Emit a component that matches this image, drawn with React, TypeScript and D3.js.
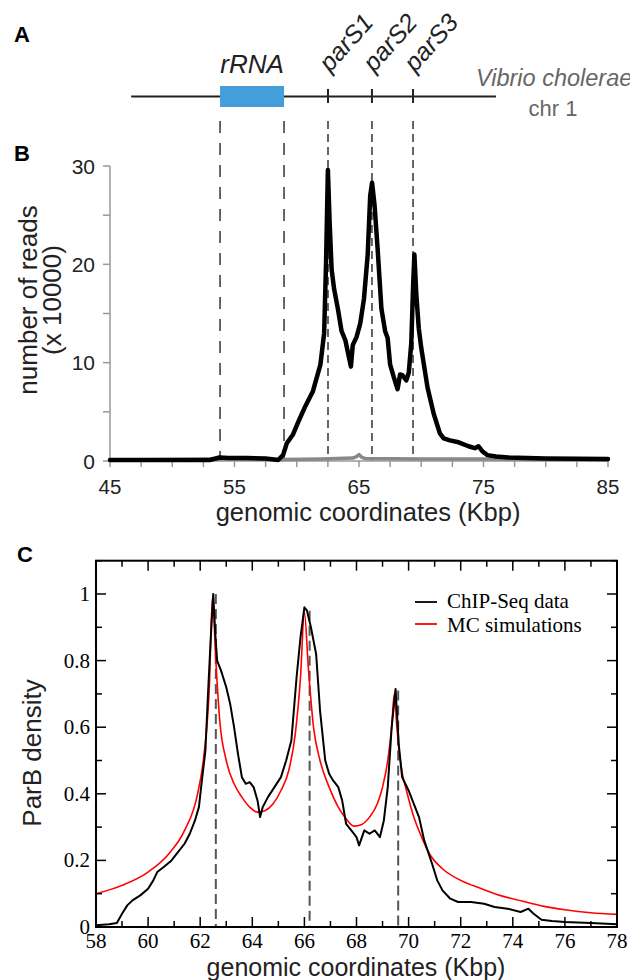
import React from "react";
import * as d3 from "d3";

// ---------- Panel A / B data ----------
const rrnaRange = [53.84, 58.98];
const parSPos = [62.51, 66.04, 69.34];
const parSLabels = ["parS1", "parS2", "parS3"];
const chrRange = [46.7, 76.0];

const bTicksX = [45, 55, 65, 75, 85];
const bTicksY = [0, 10, 20, 30];

const chipX = [45, 47, 50, 53, 53.8, 54.5, 56, 57.5, 58.5, 58.9, 59.2, 59.7, 60.2, 60.7, 61.3, 61.9, 62.2, 62.35, 62.5, 62.65, 62.8, 63.0, 63.3, 63.6, 63.9, 64.2, 64.35, 64.5, 64.8, 65.1, 65.4, 65.7, 65.9, 66.05, 66.25, 66.5, 66.8, 67.1, 67.3, 67.5, 67.8, 68.1, 68.3, 68.5, 68.8, 69.0, 69.2, 69.35, 69.45, 69.6, 69.8, 70.0, 70.5, 71.0, 71.5, 71.8, 72.3, 73, 73.8, 74.3, 74.6, 74.9, 75.3, 76, 77, 80, 85];
const chipReads = [0.1, 0.1, 0.1, 0.1, 0.35, 0.3, 0.3, 0.25, 0.1, 0.6, 1.8, 2.7, 4.2, 5.6, 7.1, 9.8, 13, 20, 29.6, 24, 19.5, 17.5, 15.5, 13.2, 12.3, 10.5, 9.6, 11.8, 12.6, 14.0, 16.5, 21, 27, 28.3, 26, 21.5, 15.5, 13.2, 12.5, 9.8, 8.5, 7.3, 8.8, 8.7, 8.2, 9.0, 12, 18, 21, 17, 13.5, 11.5, 7.5, 4.8, 2.8, 2.3, 2.1, 1.9, 1.5, 1.3, 1.5, 1.0, 0.6, 0.45, 0.35, 0.25, 0.2];

const ctrlX = [45, 50, 55, 59, 62, 64.5, 64.8, 65, 65.2, 65.5, 70, 75, 80, 85];
const ctrlReads = [0.1, 0.15, 0.2, 0.15, 0.2, 0.3, 0.45, 0.65, 0.4, 0.25, 0.2, 0.2, 0.15, 0.1];

// ---------- Panel C data ----------
const cTicksX = [58, 60, 62, 64, 66, 68, 70, 72, 74, 76, 78];
const cTicksY = [0, 0.2, 0.4, 0.6, 0.8, 1];
const cParS = [62.6, 66.2, 69.6];
const cParSTop = [1.0, 0.95, 0.71];

const dataX = [58, 58.5, 58.8, 59.0, 59.2, 59.4, 59.7, 60.0, 60.2, 60.35, 60.6, 60.9, 61.1, 61.4, 61.6, 61.8, 61.95, 62.05, 62.2, 62.3, 62.4, 62.5, 62.58, 62.65, 62.8, 63.0, 63.15, 63.3, 63.45, 63.6, 63.75, 63.9, 64.05, 64.2, 64.3, 64.4, 64.6, 64.85, 65.1, 65.3, 65.5, 65.7, 65.85, 66.0, 66.1, 66.25, 66.45, 66.6, 66.8, 66.95, 67.1, 67.3, 67.45, 67.6, 67.8, 68.0, 68.1, 68.3, 68.5, 68.7, 68.9, 69.05, 69.2, 69.35, 69.5, 69.62, 69.75, 70.0, 70.2, 70.4, 70.6, 70.9, 71.1, 71.3, 71.6, 71.9, 72.4, 72.9, 73.3, 73.8, 74.3, 74.6, 74.8, 75.1, 75.5, 76, 77, 78];
const dataY = [0.005, 0.008, 0.012, 0.04, 0.065, 0.08, 0.095, 0.115, 0.14, 0.165, 0.18, 0.2, 0.22, 0.25, 0.28, 0.32, 0.36, 0.43, 0.53, 0.7, 0.86, 1.0, 0.88, 0.8, 0.77, 0.72, 0.67, 0.6, 0.52, 0.45, 0.43, 0.435, 0.42, 0.38, 0.33, 0.36, 0.39, 0.42, 0.45, 0.5, 0.56, 0.75, 0.87, 0.96, 0.95, 0.9, 0.82, 0.65, 0.5, 0.46, 0.44, 0.42, 0.38, 0.31, 0.29, 0.27, 0.245, 0.29, 0.28, 0.29, 0.27, 0.32, 0.42, 0.6, 0.715, 0.55, 0.45, 0.41, 0.37, 0.33, 0.26, 0.19, 0.14, 0.11, 0.085, 0.075, 0.075, 0.07, 0.06, 0.055, 0.045, 0.055, 0.04, 0.022, 0.018, 0.015, 0.012, 0.008];

const simX = [58, 59, 60, 60.8, 61.4, 61.9, 62.15, 62.35, 62.47, 62.6, 62.75, 63.0, 63.3, 63.6, 63.9, 64.2, 64.5, 64.8, 65.1, 65.4, 65.65, 65.85, 66.0, 66.15, 66.35, 66.6, 66.95, 67.3, 67.6, 67.9, 68.2, 68.5, 68.8, 69.0, 69.2, 69.35, 69.45, 69.55, 69.7, 69.95, 70.2, 70.5, 70.8, 71.3, 72, 72.8, 73.5, 74.35, 75.2, 76, 77, 78];
const simY = [0.1, 0.125, 0.165, 0.22, 0.29, 0.4, 0.52, 0.72, 0.99, 0.8, 0.62, 0.5, 0.43, 0.39, 0.36, 0.345, 0.35, 0.37, 0.41, 0.47, 0.58, 0.75, 0.945, 0.78, 0.6, 0.5, 0.42, 0.36, 0.325, 0.303, 0.308, 0.33, 0.37, 0.42, 0.5, 0.6, 0.7, 0.6, 0.49, 0.4, 0.33, 0.27, 0.22, 0.175, 0.14, 0.115, 0.095, 0.078, 0.062, 0.052, 0.043, 0.038];

const legendLabels = ["ChIP-Seq data", "MC simulations"];
const legendColors = ["#000000", "#ff0000"];

const SANS = "'Liberation Sans', Arial, Helvetica, sans-serif";
const SERIF = "'Liberation Serif', 'Times New Roman', serif";

export default function App() {
  // Panel B scales
  const xB = d3.scaleLinear().domain([45, 85]).range([110, 608]);
  const yB = d3.scaleLinear().domain([0, 30]).range([461, 166]);
  const lineB = d3
    .line<[number, number]>()
    .x((d) => xB(d[0]))
    .y((d) => yB(d[1]));
  const chipPts = chipX.map((x, i) => [x, chipReads[i]] as [number, number]);
  const ctrlPts = ctrlX.map((x, i) => [x, ctrlReads[i]] as [number, number]);
  const bMinor = d3.range(45, 85.01, 2.5);
  const bYMinor = d3.range(0, 30.01, 5);

  // Panel C scales
  const xC = d3.scaleLinear().domain([58, 78]).range([96, 617]);
  const yC = d3.scaleLinear().domain([0, 1]).range([927, 594]);
  const cTop = yC(1.1);
  const lineC = d3
    .line<[number, number]>()
    .x((d) => xC(d[0]))
    .y((d) => yC(d[1]));
  const lineSim = d3
    .line<[number, number]>()
    .x((d) => xC(d[0]))
    .y((d) => yC(d[1]))
    .curve(d3.curveMonotoneX);
  const dataPts = dataX.map((x, i) => [x, dataY[i]] as [number, number]);
  const simPts = simX.map((x, i) => [x, simY[i]] as [number, number]);
  const cMinorX = d3.range(58, 78.01, 1);
  const cMinorY = d3.range(0, 1.101, 0.1);

  const dashTop = 121;

  return (
    <svg
      width={630}
      height={980}
      style={{ position: "absolute", left: 0, top: 0, background: "#fff" }}
    >
      <rect x={0} y={0} width={630} height={980} fill="#fff" />
      {/* ---------------- Panel A ---------------- */}
      <text x={14} y={42} fontFamily={SANS} fontWeight="bold" fontSize={22}>A</text>
      <line x1={xB(chrRange[0])} x2={xB(chrRange[1])} y1={96.5} y2={96.5} stroke="#222" strokeWidth={2} />
      <rect
        x={xB(rrnaRange[0])}
        y={86}
        width={xB(rrnaRange[1]) - xB(rrnaRange[0])}
        height={21}
        fill="#449ed9"
      />
      <text x={(xB(rrnaRange[0]) + xB(rrnaRange[1])) / 2} y={73} textAnchor="middle" fontFamily={SANS} fontStyle="italic" fontSize={26} fill="#222">rRNA</text>
      {parSPos.map((p, i) => (
        <g key={"ps" + i}>
          <line x1={xB(p)} x2={xB(p)} y1={89} y2={103} stroke="#222" strokeWidth={2} />
          <text
            transform={`translate(${xB(p) + 2},73) rotate(-48)`}
            fontFamily={SANS}
            fontStyle="italic"
            fontSize={25}
            fill="#222"
          >
            {parSLabels[i]}
          </text>
        </g>
      ))}
      <text x={476} y={86} fontFamily={SANS} fontStyle="italic" fontSize={23.5} fill="#666">Vibrio cholerae</text>
      <text x={553} y={116} textAnchor="middle" fontFamily={SANS} fontSize={22} fill="#666">chr 1</text>

      {/* dashed guide lines A/B */}
      {rrnaRange.map((p, i) => (
        <line key={"rd" + i} x1={xB(p)} x2={xB(p)} y1={dashTop} y2={yB(0)} stroke="#555" strokeWidth={1.8} strokeDasharray="12,10" />
      ))}
      {parSPos.map((p, i) => (
        <line key={"pd" + i} x1={xB(p)} x2={xB(p)} y1={dashTop} y2={yB(0)} stroke="#555" strokeWidth={1.8} strokeDasharray="8,5" />
      ))}

      {/* ---------------- Panel B ---------------- */}
      <text x={14} y={161} fontFamily={SANS} fontWeight="bold" fontSize={22}>B</text>
      <line x1={xB(45)} x2={xB(45)} y1={yB(30)} y2={yB(0)} stroke="#999" strokeWidth={1.5} />
      <line x1={xB(45)} x2={xB(85)} y1={yB(0)} y2={yB(0)} stroke="#999" strokeWidth={1.5} />
      {bYMinor.map((v) => (
        <line key={"by" + v} x1={xB(45) - 7} x2={xB(45)} y1={yB(v)} y2={yB(v)} stroke="#999" strokeWidth={1.5} />
      ))}
      {bMinor.map((v) => (
        <line key={"bx" + v} x1={xB(v)} x2={xB(v)} y1={yB(0)} y2={yB(0) + 6} stroke="#999" strokeWidth={1.5} />
      ))}
      {bTicksY.map((v) => (
        <text key={"byl" + v} x={95} y={yB(v) + 7.5} textAnchor="end" fontFamily={SANS} fontSize={21} fill="#222">{v}</text>
      ))}
      {bTicksX.map((v) => (
        <text key={"bxl" + v} x={xB(v)} y={494} textAnchor="middle" fontFamily={SANS} fontSize={20.5} fill="#222">{v}</text>
      ))}
      <text transform="translate(37,300) rotate(-90)" textAnchor="middle" fontFamily={SANS} fontSize={26} fill="#222">number of reads</text>
      <text transform="translate(61,300) rotate(-90)" textAnchor="middle" fontFamily={SANS} fontSize={26} fill="#222">(x 10000)</text>
      <text x={368} y={521} textAnchor="middle" fontFamily={SANS} fontSize={25.5} fill="#222">genomic coordinates (Kbp)</text>

      <path d={lineB(ctrlPts) || ""} fill="none" stroke="#888" strokeWidth={3.5} strokeLinejoin="round" strokeLinecap="round" />
      <path d={lineB(chipPts) || ""} fill="none" stroke="#000" strokeWidth={4.5} strokeLinejoin="round" strokeLinecap="round" />

      {/* ---------------- Panel C ---------------- */}
      <text x={17} y={562} fontFamily={SANS} fontWeight="bold" fontSize={22}>C</text>
      {cParS.map((p, i) => (
        <line key={"cd" + i} x1={xC(p)} x2={xC(p)} y1={yC(cParSTop[i])} y2={yC(0)} stroke="#555" strokeWidth={2} strokeDasharray="10,5" />
      ))}
      <path d={lineSim(simPts) || ""} fill="none" stroke="#ff0000" strokeWidth={1.6} />
      <path d={lineC(dataPts) || ""} fill="none" stroke="#000" strokeWidth={2} strokeLinejoin="round" />

      {/* frame */}
      <rect x={xC(58)} y={cTop} width={xC(78) - xC(58)} height={yC(0) - cTop} fill="none" stroke="#000" strokeWidth={2} />
      {cMinorX.map((v) => {
        const major = Math.abs(v % 2) < 1e-6;
        const L = major ? 10 : 6;
        return (
          <g key={"cx" + v}>
            <line x1={xC(v)} x2={xC(v)} y1={yC(0)} y2={yC(0) - L} stroke="#000" strokeWidth={1.5} />
            <line x1={xC(v)} x2={xC(v)} y1={cTop} y2={cTop + L} stroke="#000" strokeWidth={1.5} />
          </g>
        );
      })}
      {cMinorY.map((v, i) => {
        const major = i % 2 === 0;
        const L = major ? 10 : 6;
        return (
          <g key={"cy" + i}>
            <line x1={xC(58)} x2={xC(58) + L} y1={yC(v)} y2={yC(v)} stroke="#000" strokeWidth={1.5} />
            <line x1={xC(78)} x2={xC(78) - L} y1={yC(v)} y2={yC(v)} stroke="#000" strokeWidth={1.5} />
          </g>
        );
      })}
      {cTicksY.map((v) => (
        <text key={"cyl" + v} x={90} y={yC(v) + 7} textAnchor="end" fontFamily={SERIF} fontSize={21}>{v}</text>
      ))}
      {cTicksX.map((v) => (
        <text key={"cxl" + v} x={xC(v)} y={948} textAnchor="middle" fontFamily={SERIF} fontSize={21}>{v}</text>
      ))}
      <text transform="translate(41,753) rotate(-90)" textAnchor="middle" fontFamily={SANS} fontSize={26} fill="#222">ParB density</text>
      <text x={356} y={976} textAnchor="middle" fontFamily={SANS} fontSize={25} fill="#222">genomic coordinates (Kbp)</text>

      {legendLabels.map((l, i) => (
        <g key={"lg" + i}>
          <line x1={415} x2={437} y1={602 + i * 22} y2={602 + i * 22} stroke={legendColors[i]} strokeWidth={1.8} />
          <text x={447} y={608 + i * 24} fontFamily={SERIF} fontSize={21}>{l}</text>
        </g>
      ))}
    </svg>
  );
}
